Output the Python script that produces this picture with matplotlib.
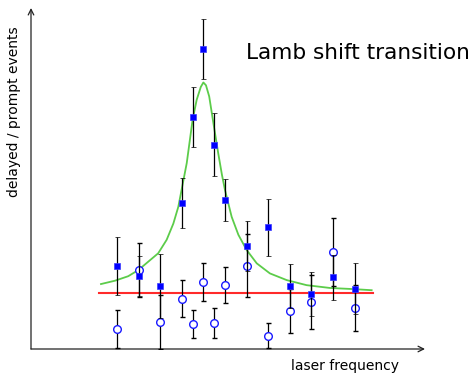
import numpy as np
import matplotlib
matplotlib.use('Agg')
import matplotlib.pyplot as plt

# laser frequency steps (arbitrary units)
freq = [0, 1, 2, 3, 3.5, 4, 4.5, 5, 6, 7, 8, 9, 10, 11]

# laser ON (filled squares)
ratio_on = [1.48, 1.30, 1.125, 2.61, 4.14, 5.36, 3.65, 2.66, 1.84, 2.17, 1.13, 0.98, 1.28, 1.08]
err_on = [0.52, 0.36, 0.57, 0.45, 0.54, 0.54, 0.56, 0.38, 0.45, 0.51, 0.39, 0.39, 0.40, 0.45]

# laser OFF (open circles)
ratio_off = [0.36, 1.41, 0.48, 0.90, 0.45, 1.20, 0.46, 1.14, 1.49, 0.24, 0.68, 0.84, 1.73, 0.73]
err_off = [0.34, 0.49, 0.48, 0.33, 0.25, 0.34, 0.27, 0.32, 0.56, 0.23, 0.39, 0.49, 0.61, 0.41]

# fitted resonance curve
fit_x = [-0.74, -0.09, 0.52, 0.99, 1.45, 1.91, 2.30, 2.61, 2.84, 3.01, 3.23, 3.50, 3.69,
         3.88, 4.00, 4.12, 4.27, 4.49, 4.69, 4.86, 5.00, 5.31, 5.62, 6.00, 6.47, 7.08,
         7.86, 8.78, 9.86, 10.94, 11.79]
fit_y = [1.16, 1.22, 1.30, 1.41, 1.56, 1.71, 1.95, 2.24, 2.54, 2.88, 3.32, 4.09, 4.45,
         4.68, 4.76, 4.71, 4.51, 3.97, 3.49, 3.11, 2.84, 2.36, 2.04, 1.77, 1.53, 1.35,
         1.23, 1.14, 1.09, 1.07, 1.05]

# background level
bg_level = 1.0
bg_x = [-0.82, 11.84]

fig = plt.figure(figsize=(4.74, 3.74), dpi=100)
ax = fig.add_axes([31 / 474, 25 / 374, 394 / 474, 341 / 374])
ax.set_xlim(-3.98, 14.26)
ax.set_ylim(0, 6.09)

ax.plot(bg_x, [bg_level, bg_level], color='#ff2a2a', lw=1.5, zorder=2)
ax.plot(fit_x, fit_y, color='#5ccc4a', lw=1.3, zorder=3)

ax.errorbar(freq, ratio_off, yerr=err_off, fmt='o', ms=5.5, mfc='white', mec='#1a1aff',
            mew=1.0, ecolor='black', elinewidth=0.9, capsize=1.8, capthick=0.9, zorder=4)
ax.errorbar(freq, ratio_on, yerr=err_on, fmt='s', ms=4.6, mfc='#0000ff', mec='#3a3aff',
            mew=0.5, ecolor='black', elinewidth=0.9, capsize=1.8, capthick=0.9, zorder=5)

# axes as arrows, no ticks
for s in ax.spines.values():
    s.set_visible(False)
ax.set_xticks([])
ax.set_yticks([])
arrow = dict(arrowstyle='->', color='#222222', lw=0.9, shrinkA=0, shrinkB=0)
ax.annotate('', xy=(1, 0), xytext=(0, 0), xycoords='axes fraction', arrowprops=arrow,
            annotation_clip=False)
ax.annotate('', xy=(0, 1), xytext=(0, 0), xycoords='axes fraction', arrowprops=arrow,
            annotation_clip=False)

fig.text(345 / 474, 1 - 366 / 374, 'laser frequency', ha='center', va='center', fontsize=10)
fig.text(14 / 474, 1 - 112 / 374, 'delayed / prompt events', ha='center', va='center',
         rotation=90, fontsize=10)
fig.text(358 / 474, 1 - 53 / 374, 'Lamb shift transition', ha='center', va='center',
         fontsize=15.6)

fig.savefig('out.png', dpi=100)
